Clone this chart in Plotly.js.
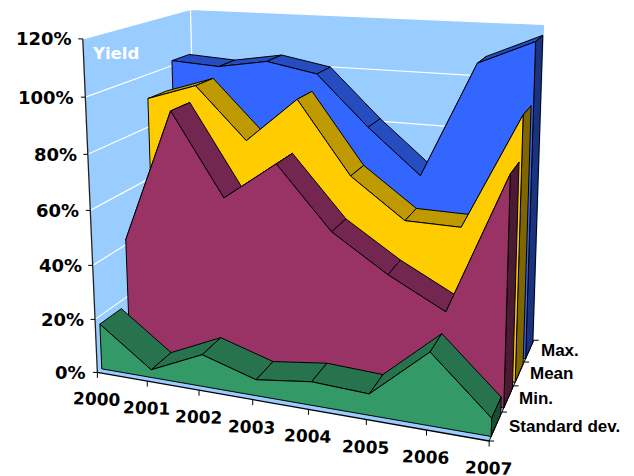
<!DOCTYPE html>
<html><head><meta charset="utf-8"><script src="https://cdn.plot.ly/plotly-3.0.1.min.js"></script>
<style>html,body{margin:0;padding:0;background:#fff}</style></head><body><div id="c" style="width:634px;height:476px"></div>
<script>
const years=['2000','2001','2002','2003','2004','2005','2006','2007'];
const yieldTicks=[0,20,40,60,80,100,120];
const seriesNames=['Standard dev.','Min.','Mean','Max.'];
const stdDev=[17.0,2.9,11.7,5.8,8.4,7.5,25.2,6.2];
const minVals=[41.9,91.8,61.9,76.1,54.0,41.2,30.8,80.0];
const meanVals=[90.9,97.1,77.9,94.7,68.3,54.0,53.8,94.9];
const maxVals=[102.0,100.8,103.9,100.3,81.5,64.9,107.7,116.4];
const frontColors=['#339966','#993366','#FFCC00','#3366FF'];
const topColors=['#26734D','#732650','#BF9900','#264DBF'];
const sideColors=['#1A4D33','#4D1A33','#806600','#1A3380'];

// camera calibration: [year index, depth, value, screen x, screen y]
const cp=[[0,0,0,99,371],[7,0,0,488,442],[7,4,0,535,339],[0,0,120,82,38],[0,4,120,191,9],[7,4,120,544,26],[0,4,0,196,295],
[1,0,0,147,381],[2,0,0,199.5,390],[3,0,0,252,400],[4,0,0,308,410],[5,0,0,365.7,420],[6,0,0,425.7,431.7],
[0,0,20,96,319],[0,0,40,93,265],[0,0,60,90.5,211],[0,0,80,88,154],[0,0,100,85,97],
[7,1,0,502.7,412.7],[7,2,0,515,385],[7,3,0,523.3,359.3]];
function fit(){const N=11,A=Array.from({length:N},()=>Array(N+1).fill(0));
 const add=(r,b)=>{for(let i=0;i<N;i++){for(let j=0;j<N;j++)A[i][j]+=r[i]*r[j];A[i][N]+=r[i]*b;}};
 cp.forEach(c=>{const X=c[0]/7,Y=c[1]/4,Z=c[2]/120,u=c[3]/500,v=c[4]/500;
  add([X,Y,Z,1,0,0,0,0,-u*X,-u*Y,-u*Z],u);add([0,0,0,0,X,Y,Z,1,-v*X,-v*Y,-v*Z],v);});
 for(let i=0;i<N;i++){let p=i;for(let k=i;k<N;k++)if(Math.abs(A[k][i])>Math.abs(A[p][i]))p=k;[A[i],A[p]]=[A[p],A[i]];
  for(let k=0;k<N;k++)if(k!=i){const f=A[k][i]/A[i][i];for(let j=i;j<=N;j++)A[k][j]-=f*A[i][j];}}
 return A.map((r,i)=>r[N]/r[i]);}
const m=fit();
function proj(i,d,v){const X=i/7,Y=d/4,Z=v/120,w=m[8]*X+m[9]*Y+m[10]*Z+1;
 return [500*(m[0]*X+m[1]*Y+m[2]*Z+m[3])/w,500*(m[4]*X+m[5]*Y+m[6]*Z+m[7])/w];}

const traces=[];
function poly(pts,fill,lw,lc){const p=pts.map(q=>proj(q[0],q[1],q[2]));
 traces.push({x:p.map(a=>a[0]).concat(p[0][0]),y:p.map(a=>a[1]).concat(p[0][1]),mode:'lines',fill:'toself',fillcolor:fill,
  line:{color:lc||'#000',width:lw===undefined?1:lw},hoverinfo:'skip'});}
function line(pts,color,w){traces.push({x:pts.map(a=>a[0]),y:pts.map(a=>a[1]),mode:'lines',line:{color:color,width:w},hoverinfo:'skip'});}

const WALL='#99CCFF';
const last=years.length-1,D=seriesNames.length;
poly([[0,0,0],[0,D,0],[0,D,120],[0,0,120]],WALL,0,WALL);
poly([[0,D,0],[last,D,0],[last,D,120],[0,D,120]],WALL,0,WALL);
poly([[0,0,0],[last,0,0],[last,D,0],[0,D,0]],WALL,0,WALL);
yieldTicks.slice(1).forEach(v=>{
 line([proj(0,0,v),proj(0,D,v),proj(last,D,v)],'#FFFFFF',1.2);
});
line([proj(0,D,0),proj(0,D,120)],'#FFFFFF',1.2);

const all=[stdDev,minVals,meanVals,maxVals];
const F=0.15,B=0.9;
for(let k=all.length-1;k>=0;k--){
 const vals=all[k],df=k+F,db=k+B;
 for(let i=0;i<last;i++)poly([[i,df,vals[i]],[i,db,vals[i]],[i+1,db,vals[i+1]],[i+1,df,vals[i+1]]],topColors[k]);
 poly([[last,df,0],[last,db,0],[last,db,vals[last]],[last,df,vals[last]]],sideColors[k]);
 const face=[[0,df,0]];vals.forEach((v,i)=>face.push([i,df,v]));face.push([last,df,0]);
 poly(face,frontColors[k]);
}

// axes and ticks
line([proj(0,0,0),proj(0,0,120)],'#222',1.3);
line([proj(0,0,0),proj(last,0,0)],'#000',1.3);
line([proj(last,0,0),proj(last,D,0)],'#000',1);
const ann=[];
const FONT="'DejaVu Sans',Verdana,sans-serif";
yieldTicks.forEach(v=>{const p=proj(0,0,v);line([[p[0]-4.5,p[1]],p],'#000',1);
 ann.push({x:p[0]-9,y:p[1],xref:'x',yref:'y',xanchor:'right',yanchor:'middle',showarrow:false,text:'<b>'+v+'%</b>',font:{family:FONT,size:18,color:'#000'}});});
years.forEach((t,i)=>{const p=proj(i,0,0);line([p,[p[0],p[1]+5.5]],'#000',1);
 ann.push({x:p[0]-1,y:p[1]+27,xref:'x',yref:'y',xanchor:'center',yanchor:'middle',textangle:2,showarrow:false,text:'<b>'+t+'</b>',font:{family:FONT,size:17,color:'#000'}});});
for(let k=0;k<=D;k++){const p=proj(last,k,0);line([p,[p[0]+5,p[1]]],'#000',1);}
seriesNames.forEach((t,k)=>{const p=proj(last,k+0.5,0);
 ann.push({x:p[0]+(k===0?11:9.5),y:p[1],xref:'x',yref:'y',xanchor:'left',yanchor:'middle',showarrow:false,text:'<b>'+t+'</b>',font:{family:"'Liberation Sans',Arial,sans-serif",size:17,color:'#000'}});});
const yl=proj(0,0,113);
ann.push({x:yl[0]+6,y:yl[1]-6,xref:'x',yref:'y',xanchor:'left',yanchor:'middle',showarrow:false,text:'<b>Yield</b>',font:{family:FONT,size:16.5,color:'#FFFFFF'}});

Plotly.newPlot('c',traces,{width:634,height:476,margin:{l:0,r:0,t:0,b:0,pad:0},showlegend:false,paper_bgcolor:'#fff',plot_bgcolor:'#fff',
 xaxis:{range:[0,634],visible:false,fixedrange:true},yaxis:{range:[476,0],visible:false,fixedrange:true},annotations:ann},{displayModeBar:false,staticPlot:true});
</script></body></html>
